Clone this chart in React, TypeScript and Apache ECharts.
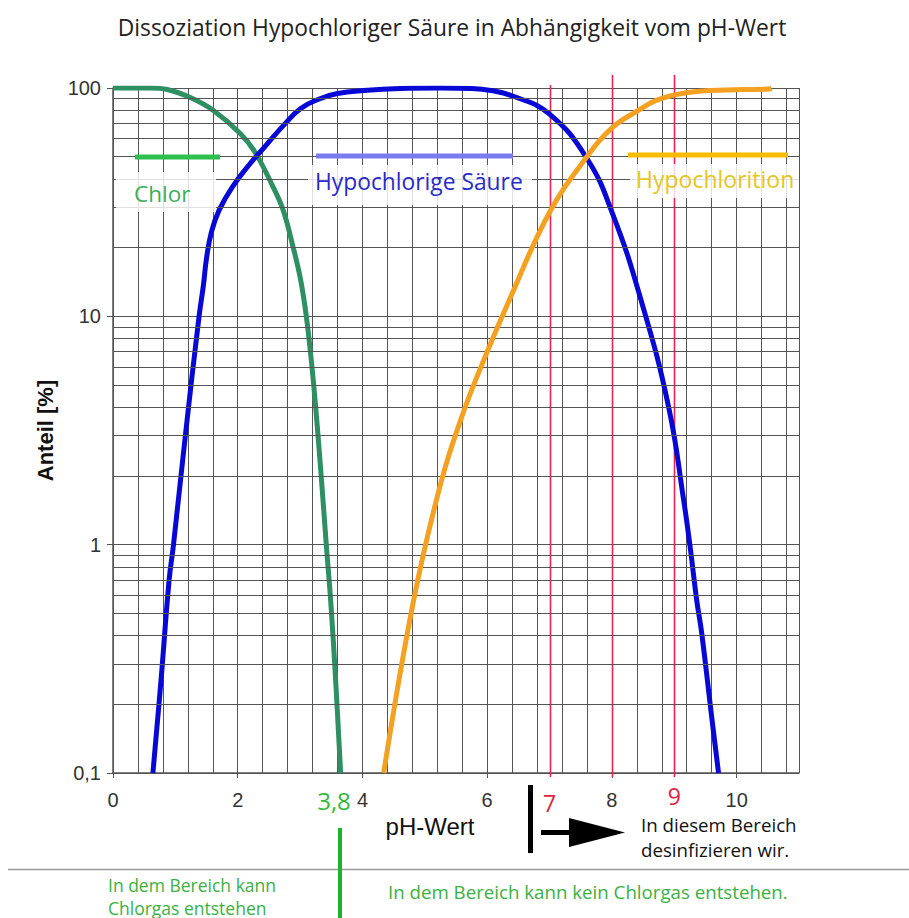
import React, { useEffect, useRef } from "react";
import * as echarts from "echarts";

// pH vs. Anteil [%]
const chlorData: [number, number][] = [
  [0, 100], [0.6, 100], [0.87, 98.5], [1.24, 90.8], [1.61, 79.7], [2.04, 63.2], [2.28, 52.2],
  [2.57, 36.7], [2.73, 29.1], [2.89, 20.0], [3.01, 14.4], [3.1, 10], [3.18, 6.4], [3.25, 4.0],
  [3.34, 1.97], [3.42, 1.0], [3.49, 0.57], [3.57, 0.255], [3.65, 0.1],
];
const hoclData: [number, number][] = [
  [0.64, 0.1], [0.77, 0.255], [0.9, 0.7], [0.97, 1.0], [1.16, 3.0], [1.38, 10], [1.45, 13.7],
  [1.5, 18.0], [1.58, 23.5], [1.7, 29.1], [1.91, 36.7], [2.2, 46.7], [2.44, 55.5], [2.72, 67.9],
  [3.01, 81.3], [3.33, 90.0], [3.6, 94.6], [4.02, 97.5], [4.61, 99.5], [5.26, 100], [5.74, 99.5],
  [6.06, 97.5], [6.43, 91.8], [6.99, 77.2], [7.59, 49.6], [8.01, 28.2], [8.47, 11.7], [8.91, 4.0],
  [9.15, 1.57], [9.26, 0.95], [9.36, 0.57], [9.44, 0.41], [9.6, 0.176], [9.71, 0.1],
];
const oclData: [number, number][] = [
  [4.34, 0.1], [4.82, 0.57], [5.27, 1.92], [5.63, 3.88], [6.01, 7.1], [6.35, 11.7], [6.99, 28.2],
  [7.59, 49.6], [8.01, 67.2], [8.42, 79.7], [8.71, 88.2], [9.12, 94.6], [9.6, 97.5], [10.51, 99.0],
  [10.56, 99.5],
];

const xMin = 0;
const xMax = 11;
const xLabelStep = 2;
const xGridStep = 0.4;
const yMin = 0.1;
const yMax = 100;
const yMinorFactors = [2, 3, 4, 5, 6, 7, 8, 9];
const yDecades = [0.1, 1, 10];
const redLinePH = [7, 8, 9];
const redLineTop = [85, 75, 75];
const redLabelPH = [7, 9];
const redLabelY = [803, 796];

const titleText = "Dissoziation Hypochloriger Säure in Abhängigkeit vom pH-Wert";
const seriesNames = ["Chlor", "Hypochlorige Säure", "Hypochlorition"];

const SANS = "'Open Sans', 'Noto Sans', sans-serif";
const ARIAL = "'Liberation Sans', Arial, sans-serif";
const GRID = "#555";

export default function App() {
  const ref = useRef<HTMLDivElement>(null);
  useEffect(() => {
    if (!ref.current) return;
    const chart = echarts.init(ref.current, undefined, { renderer: "svg" });
    const yMinor = yDecades.flatMap((d) => yMinorFactors.map((k) => +(k * d).toPrecision(3)));
    const lineStyle = { color: GRID, width: 1 };
    chart.setOption({
      animation: false,
      backgroundColor: "#fff",
      grid: { left: 113, top: 88, width: 686, height: 685, containLabel: false },
      xAxis: [
        {
          type: "value", min: xMin, max: xMax, interval: xLabelStep, position: "bottom",
          axisLine: { show: true, lineStyle: { color: GRID, width: 1.5 } },
          axisTick: { show: true, length: 5, lineStyle: { color: GRID } },
          axisLabel: { show: true, margin: 17, fontSize: 20, color: "#333", fontFamily: ARIAL, showMaxLabel: false },
          splitLine: { show: false },
        },
        {
          type: "value", min: xMin, max: xMax, interval: xGridStep, position: "top",
          axisLine: { show: false }, axisTick: { show: false }, axisLabel: { show: false },
          splitLine: { show: true, lineStyle },
        },
      ],
      yAxis: {
        type: "log", logBase: 10, min: yMin, max: yMax,
        name: "Anteil [%]", nameLocation: "middle", nameGap: 55, nameRotate: 90,
        nameTextStyle: { fontSize: 22, fontWeight: "bold", color: "#111", fontFamily: ARIAL },
        axisLine: { show: true, lineStyle: { color: GRID, width: 1.5 } },
        axisTick: { show: true, length: 6, lineStyle: { color: GRID } },
        axisLabel: {
          fontSize: 20, color: "#333", fontFamily: ARIAL, margin: 12,
          formatter: (v: number) => (v < 0.5 ? "0,1" : String(Math.round(v))),
        },
        splitLine: { show: true, lineStyle },
      },
      series: [
        {
          type: "line", data: [], z: 1, silent: true,
          markLine: {
            silent: true, symbol: ["none", "none"], label: { show: false },
            lineStyle: { color: GRID, width: 1, type: "solid" },
            data: yMinor.map((v) => ({ yAxis: v })),
          },
        },
        {
          name: seriesNames[0], type: "line", data: chlorData, smooth: 0.4, showSymbol: false, z: 3,
          lineStyle: { color: "#2e8f62", width: 5 },
        },
        {
          name: seriesNames[1], type: "line", data: hoclData, smooth: 0.45, showSymbol: false, z: 4,
          lineStyle: { color: "#0808d6", width: 5 },
        },
        {
          name: seriesNames[2], type: "line", data: oclData, smooth: 0.4, showSymbol: false, z: 5,
          lineStyle: { color: "#f4a020", width: 5 },
        },
      ],
    });

    const px = (v: number) => chart.convertToPixel({ xAxisIndex: 0 }, v) as number;
    const py = (v: number) => chart.convertToPixel({ yAxisIndex: 0 }, v) as number;
    const yBottom = py(yMin);

    const graphics: any[] = [
      { type: "text", x: 452, y: 27, style: { text: titleText, font: `22.8px ${SANS}`, fill: "#222", align: "center", verticalAlign: "middle" } },
      // white label backgrounds
      { type: "rect", shape: { x: 116, y: 172, width: 100, height: 40 }, style: { fill: "rgba(255,255,255,0.82)" }, z: 10 },
      { type: "rect", shape: { x: 308, y: 165, width: 224, height: 40 }, style: { fill: "rgba(255,255,255,0.82)" }, z: 10 },
      { type: "rect", shape: { x: 630, y: 164, width: 169, height: 34 }, style: { fill: "rgba(255,255,255,0.82)" }, z: 10 },
      // legend bars
      { type: "line", shape: { x1: 135, y1: 157, x2: 220, y2: 157 }, style: { stroke: "#2dc04f", lineWidth: 5 }, z: 11 },
      { type: "line", shape: { x1: 316, y1: 156, x2: 513, y2: 156 }, style: { stroke: "#7b7bf0", lineWidth: 5 }, z: 11 },
      { type: "line", shape: { x1: 628, y1: 155, x2: 788, y2: 155 }, style: { stroke: "#f7bb00", lineWidth: 5 }, z: 11 },
      { type: "text", x: 134, y: 193, style: { text: seriesNames[0], font: `22.5px ${SANS}`, fill: "#3aae5a", verticalAlign: "middle" }, z: 12 },
      { type: "text", x: 315, y: 181, style: { text: seriesNames[1], font: `22.8px ${SANS}`, fill: "#2a2ac8", verticalAlign: "middle" }, z: 12 },
      { type: "text", x: 636, y: 179, style: { text: seriesNames[2], font: `23px ${SANS}`, fill: "#e6c51f", verticalAlign: "middle" }, z: 12 },
      // axis annotations
      { type: "text", x: 334, y: 800, style: { text: "3,8", font: `24px ${SANS}`, fill: "#33b83a", align: "center", verticalAlign: "middle" }, z: 12 },
      { type: "text", x: 430, y: 826, style: { text: "pH-Wert", font: `24px ${ARIAL}`, fill: "#111", align: "center", verticalAlign: "middle" }, z: 12 },
      // arrow
      { type: "rect", shape: { x: 528, y: 785, width: 5, height: 68 }, style: { fill: "#000" } },
      { type: "rect", shape: { x: 541, y: 830, width: 32, height: 5 }, style: { fill: "#000" } },
      { type: "polygon", shape: { points: [[569, 818], [625, 832.5], [569, 847]] }, style: { fill: "#000" } },
      { type: "text", x: 641, y: 836.5, style: { text: "In diesem Bereich\ndesinfizieren wir.", font: `18.7px ${SANS}`, lineHeight: 25, fill: "#111", verticalAlign: "middle" } },
      // separator
      { type: "line", shape: { x1: 8, y1: 869.5, x2: 909, y2: 869.5 }, style: { stroke: "#999", lineWidth: 1.5 } },
      { type: "line", shape: { x1: 340, y1: 828, x2: 340, y2: 918 }, style: { stroke: "#1db32a", lineWidth: 4 } },
      { type: "text", x: 108, y: 884.5, style: { text: "In dem Bereich kann", font: `17.5px ${SANS}`, fill: "#3cb043", verticalAlign: "middle" } },
      { type: "text", x: 108, y: 907.5, style: { text: "Chlorgas entstehen", font: `17.5px ${SANS}`, fill: "#3cb043", verticalAlign: "middle" } },
      { type: "text", x: 388, y: 891, style: { text: "In dem Bereich kann kein Chlorgas entstehen.", font: `18.7px ${SANS}`, fill: "#3cb043", verticalAlign: "middle" } },
    ];
    redLinePH.forEach((v, i) => {
      const x = Math.round(px(v)) + 0.5;
      graphics.push({ type: "line", shape: { x1: x, y1: redLineTop[i], x2: x, y2: yBottom + 4 }, style: { stroke: "#ec2452", lineWidth: 1.6 }, z: 2 });
    });
    redLabelPH.forEach((v, i) => {
      graphics.push({ type: "text", x: px(v), y: redLabelY[i], style: { text: String(v), font: `23px ${SANS}`, fill: "#e0203c", align: "center", verticalAlign: "middle" }, z: 12 });
    });
    chart.setOption({ graphic: graphics });
    return () => chart.dispose();
  }, []);
  return <div ref={ref} style={{ position: "fixed", left: 0, top: 0, width: 909, height: 918 }} />;
}
